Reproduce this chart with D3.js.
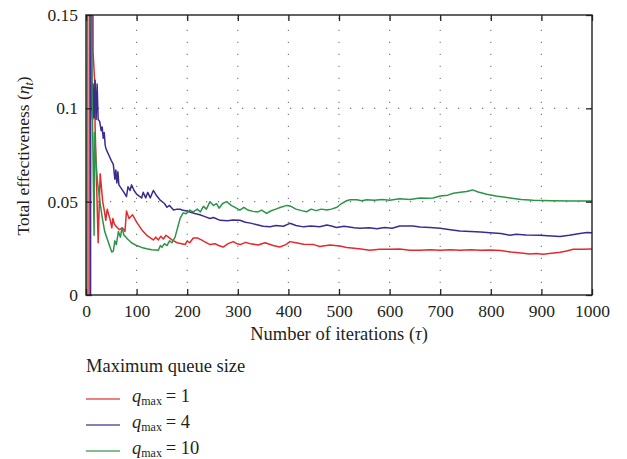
<!DOCTYPE html>
<html>
<head>
<meta charset="utf-8">
<script src="https://cdn.jsdelivr.net/npm/d3@7"></script>
<style>
  body { margin: 0; background: #fff; }
  svg { display: block; font-family: "Liberation Serif", "DejaVu Serif", serif; fill: #231f20; }
</style>
</head>
<body>
<div id="chart"></div>
<script>
// values: [iteration, effectiveness]
const qmax1 = [
  [6,0],[7,0.3],[13,0.3],[14,0.13],[17,0.115],[18,0.09],[24,0.028],[28,0.065],[33,0.05],[37,0.044],
  [39,0.04],[42,0.046],[45,0.043],[48,0.04],[51,0.036],[53,0.041],[56,0.038],[59,0.037],[62,0.036],
  [66,0.035],[72,0.036],[77,0.034],[80,0.045],[85,0.041],[92,0.043],[100,0.039],[110,0.035],[120,0.032],
  [133,0.0295],[138,0.031],[143,0.0295],[148,0.0315],[153,0.03],[158,0.032],[163,0.031],[170,0.0295],
  [180,0.028],[196,0.027],[200,0.029],[205,0.028],[212,0.0305],[221,0.0305],[228,0.0295],[235,0.0285],
  [245,0.027],[255,0.0275],[262,0.0265],[271,0.0257],[281,0.0275],[291,0.0286],[298,0.0275],[305,0.027],
  [315,0.0282],[325,0.0275],[340,0.0268],[354,0.028],[370,0.0265],[383,0.0257],[395,0.027],[403,0.0286],
  [415,0.028],[430,0.0272],[450,0.027],[462,0.026],[482,0.0268],[502,0.0262],[515,0.0255],[540,0.0248],
  [561,0.024],[580,0.0245],[600,0.0245],[620,0.0246],[640,0.024],[660,0.024],[680,0.0243],[700,0.024],
  [720,0.0242],[740,0.024],[760,0.0243],[780,0.024],[800,0.0241],[820,0.0238],[840,0.023],[860,0.0225],
  [877,0.022],[890,0.0222],[903,0.0218],[920,0.0224],[937,0.0229],[950,0.0236],[963,0.0245],[980,0.0245],
  [1000,0.0246]
];
const qmax4 = [
  [9,0],[10,0.4],[11,0.4],[11.5,0.11],[13,0.094],[14,0.113],[16,0.095],[18,0.115],[20,0.094],[22,0.113],
  [24,0.094],[27,0.093],[30,0.088],[32,0.09],[34,0.084],[36,0.087],[38,0.08],[40,0.078],[45,0.075],
  [50,0.072],[54,0.07],[57,0.062],[59,0.067],[61,0.06],[63,0.066],[65,0.059],[70,0.057],[75,0.055],
  [80,0.0527],[83,0.058],[87,0.056],[90,0.059],[95,0.056],[100,0.054],[105,0.053],[110,0.052],[113,0.055],
  [118,0.052],[122,0.055],[127,0.052],[133,0.056],[140,0.053],[146,0.051],[155,0.049],[160,0.047],
  [165,0.048],[173,0.0455],[180,0.046],[186,0.0459],[190,0.0455],[199,0.045],[205,0.0445],[215,0.0437],
  [225,0.043],[235,0.042],[245,0.041],[252,0.0415],[265,0.04],[280,0.0398],[290,0.0402],[304,0.04],
  [315,0.039],[325,0.0385],[340,0.0375],[350,0.0368],[364,0.0366],[375,0.0372],[390,0.0368],[403,0.0384],
  [415,0.0372],[430,0.0365],[445,0.037],[462,0.0366],[476,0.0375],[485,0.037],[495,0.0362],[510,0.0368],
  [530,0.036],[541,0.0357],[560,0.036],[575,0.0355],[590,0.0362],[605,0.0358],[620,0.037],[646,0.037],
  [660,0.0364],[680,0.0362],[700,0.0357],[720,0.035],[739,0.0343],[760,0.034],[780,0.0337],[798,0.0334],
  [820,0.033],[838,0.032],[850,0.0325],[870,0.0322],[897,0.032],[920,0.0316],[937,0.0313],[955,0.032],
  [976,0.033],[990,0.0335],[1000,0.0334]
];
const qmax10 = [
  [2,0],[3,0.4],[8,0.4],[10,0.15],[16,0.032],[17,0.087],[20,0.07],[23,0.06],[28,0.049],[33,0.04],
  [37,0.034],[42,0.03],[47,0.026],[51,0.023],[54,0.0235],[57,0.029],[60,0.027],[64,0.034],[68,0.031],
  [71,0.036],[75,0.032],[79,0.031],[82,0.03],[90,0.028],[100,0.0265],[110,0.0255],[120,0.0248],
  [130,0.0243],[143,0.024],[147,0.0265],[150,0.0255],[155,0.0275],[160,0.0265],[165,0.029],[170,0.028],
  [176,0.031],[180,0.035],[186,0.041],[192,0.044],[198,0.0435],[205,0.0455],[212,0.0445],[220,0.046],
  [226,0.0445],[232,0.0475],[238,0.046],[245,0.05],[252,0.048],[258,0.049],[263,0.0465],[270,0.049],
  [278,0.05],[287,0.048],[298,0.0464],[304,0.0455],[312,0.047],[320,0.0455],[330,0.0448],[340,0.0445],
  [347,0.0455],[357,0.0437],[365,0.045],[375,0.046],[385,0.047],[397,0.048],[405,0.0475],[415,0.046],
  [426,0.0452],[436,0.0446],[445,0.046],[455,0.0452],[465,0.046],[476,0.0455],[485,0.046],[496,0.047],
  [505,0.049],[515,0.0505],[522,0.051],[535,0.051],[545,0.0505],[555,0.051],[570,0.0508],[585,0.0512],
  [600,0.0508],[620,0.0515],[640,0.0512],[660,0.052],[675,0.0518],[686,0.052],[700,0.053],[715,0.0535],
  [726,0.0545],[740,0.055],[752,0.0554],[764,0.0563],[775,0.0552],[792,0.054],[810,0.053],[825,0.0525],
  [838,0.052],[860,0.0512],[884,0.0507],[920,0.0505],[960,0.0504],[1000,0.0503]
];

const seriesNames = ['1', '4', '10'];
const seriesColors = ['#e52a2e', '#3d2b8f', '#2b9449'];
const seriesData = [qmax1, qmax4, qmax10];
const xTicks = [0, 100, 200, 300, 400, 500, 600, 700, 800, 900, 1000];
const yTicks = [0, 0.05, 0.1, 0.15];

const margin = {top: 15, left: 86};
const width = 506, height = 280;

const svg = d3.select('#chart').append('svg')
  .attr('width', 627)
  .attr('height', 459);

const g = svg.append('g')
  .attr('transform', `translate(${margin.left},${margin.top})`);

const x = d3.scaleLinear().domain([0, 1000]).range([0, width]);
const y = d3.scaleLinear().domain([0, 0.15]).range([height, 0]);

svg.append('defs').append('clipPath').attr('id', 'plot-clip')
  .append('rect').attr('width', width).attr('height', height);

// dotted grid
g.selectAll('.vgrid')
  .data(xTicks.slice(1, -1))
  .enter().append('line')
    .attr('x1', d => x(d)).attr('x2', d => x(d))
    .attr('y1', height).attr('y2', 0)
    .attr('stroke', '#777')
    .attr('stroke-width', 1.1)
    .attr('stroke-dasharray', '1.2,10.8');

g.selectAll('.hgrid')
  .data(yTicks.slice(1, -1))
  .enter().append('line')
    .attr('x1', 0).attr('x2', width)
    .attr('y1', d => y(d)).attr('y2', d => y(d))
    .attr('stroke', '#777')
    .attr('stroke-width', 1.1)
    .attr('stroke-dasharray', '1.2,10.8');

// series
const line = d3.line().x(d => x(d[0])).y(d => y(d[1]));

g.append('g').attr('clip-path', 'url(#plot-clip)')
  .selectAll('path')
  .data(seriesData)
  .enter().append('path')
    .attr('d', line)
    .attr('fill', 'none')
    .attr('stroke', (d, i) => seriesColors[i])
    .attr('stroke-width', 1.5)
    .attr('stroke-linejoin', 'round');

// axes, ticks pointing inward
const fmt = d => d === 0 ? '0' : String(d);

g.append('g')
  .attr('transform', `translate(0,${height})`)
  .call(d3.axisBottom(x).tickValues(xTicks).tickSize(-6).tickPadding(10).tickFormat(fmt));
g.append('g')
  .call(d3.axisTop(x).tickValues(xTicks).tickSize(-6).tickFormat(''));
g.append('g')
  .call(d3.axisLeft(y).tickValues(yTicks).tickSize(-6).tickPadding(8).tickFormat(fmt));
g.append('g')
  .attr('transform', `translate(${width},0)`)
  .call(d3.axisRight(y).tickValues(yTicks).tickSize(-6).tickFormat(''));

g.selectAll('.domain').remove();
g.selectAll('.tick line').attr('stroke', '#222').attr('stroke-width', 1.3);
g.selectAll('.tick text')
  .attr('fill', '#231f20')
  .style('font-family', '"Liberation Serif", serif')
  .style('font-size', '17.5px');

g.append('rect')
  .attr('width', width).attr('height', height)
  .attr('fill', 'none')
  .attr('stroke', '#222')
  .attr('stroke-width', 1.4);

// axis titles
const xTitle = svg.append('text')
  .attr('x', margin.left + width / 2)
  .attr('y', 340)
  .attr('text-anchor', 'middle')
  .style('font-size', '18.5px');
xTitle.append('tspan').text('Number of iterations (');
xTitle.append('tspan').style('font-style', 'italic').text('τ');
xTitle.append('tspan').text(')');

const yTitle = svg.append('text')
  .attr('transform', `translate(29,${margin.top + 141}) rotate(-90)`)
  .attr('text-anchor', 'middle')
  .style('font-size', '17.5px');
yTitle.append('tspan').text('Total effectiveness (');
yTitle.append('tspan').style('font-style', 'italic').text('η');
yTitle.append('tspan').style('font-style', 'italic').style('font-size', '12px').attr('dy', 4).text('t');
yTitle.append('tspan').attr('dy', -4).text(')');

// legend
const legend = svg.append('g').attr('transform', 'translate(86,372)');
legend.append('text')
  .attr('x', 0).attr('y', 0)
  .style('font-size', '18.5px')
  .text('Maximum queue size');

const item = legend.selectAll('.legend-item')
  .data(seriesNames)
  .enter().append('g')
    .attr('class', 'legend-item')
    .attr('transform', (d, i) => `translate(0,${27 + i * 26})`);

item.append('line')
  .attr('x1', 0).attr('x2', 34)
  .attr('y1', 0).attr('y2', 0)
  .attr('stroke', (d, i) => seriesColors[i])
  .attr('stroke-opacity', 0.8)
  .attr('stroke-width', 1.5);

const label = item.append('text')
  .attr('x', 46).attr('y', 3)
  .style('font-size', '18.5px');
label.append('tspan').style('font-style', 'italic').text('q');
label.append('tspan').style('font-size', '12px').attr('dy', 3).text('max');
label.append('tspan').attr('dy', -3).text(d => '\u2009= ' + d);
</script>
</body>
</html>
